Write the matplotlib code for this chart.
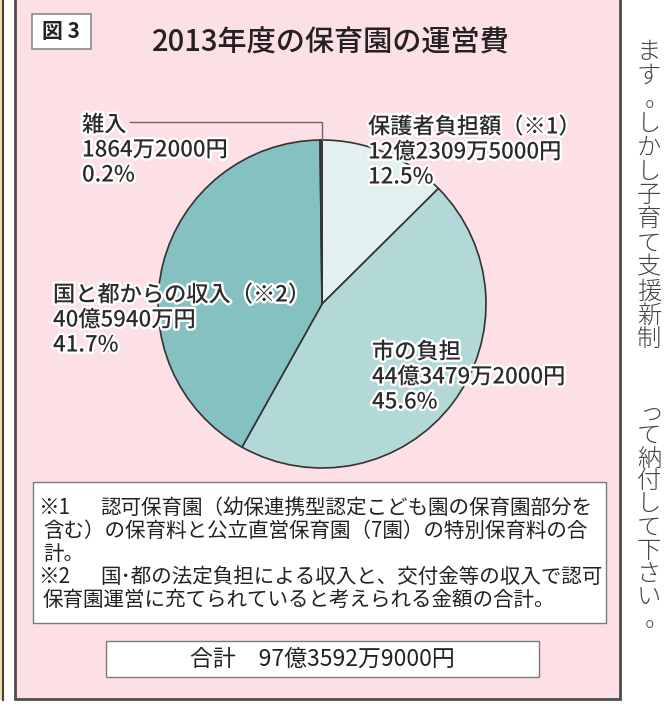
import matplotlib.pyplot as plt
from matplotlib.patches import Rectangle
import matplotlib.patheffects as pe

plt.rcParams['font.family'] = ['Noto Sans CJK JP', 'DejaVu Sans']

# data
categories = ['保護者負担額（※1）', '市の負担', '国と都からの収入（※2）', '雑入']
amounts_yen = [1223095000, 4434792000, 4059400000, 18642000]
amount_labels = ['12億2309万5000円', '44億3479万2000円', '40億5940万円', '1864万2000円']
percent_labels = ['12.5%', '45.6%', '41.7%', '0.2%']
slice_colors = ['#e2f0f0', '#b3d8d8', '#85c1c1', '#444444']

title = '2013年度の保育園の運営費'
fig_no = '図 3'
notes = [('※1', '認可保育園（幼保連携型認定こども園の保育園部分を'),
         ('', '含む）の保育料と公立直営保育園（7園）の特別保育料の合'),
         ('', '計。'),
         ('※2', '国･都の法定負担による収入と、交付金等の収入で認可'),
         ('', '保育園運営に充てられていると考えられる金額の合計。')]
total_text = '合計　97億3592万9000円'
side_col1 = 'ます。しかし子育て支援新制'
side_col2 = 'って納付して下さい。'

W, H = 670, 707
fig = plt.figure(figsize=(W / 100, H / 100), dpi=100)

# background layer (pixel coords, y down)
bg = fig.add_axes([0, 0, 1, 1])
bg.set_xlim(0, W)
bg.set_ylim(H, 0)
bg.axis('off')
bg.add_patch(Rectangle((0, 0), 2.5, 700, fc='#efe2b0', ec='none'))
bg.plot([3, 3], [0, 700], color='#4a4030', lw=1.5)
bg.add_patch(Rectangle((15, -2), 605, 701, fc='#fde0e5', ec='#4d4d4d', lw=2))
bg.add_patch(Rectangle((33, 482), 573, 141, fc='white', ec='#7a7a7a', lw=1))
bg.add_patch(Rectangle((106, 641), 433, 36, fc='white', ec='#7a7a7a', lw=1))
bg.add_patch(Rectangle((32, 14), 59, 35, fc='white', ec='#8a8a8a', lw=1.2))

# pie
cx, cy, r = 322, 304, 164
pad = 1.03
ax = fig.add_axes([(cx - r * pad) / W, 1 - (cy + r * pad) / H, 2 * r * pad / W, 2 * r * pad / H])
ax.pie(amounts_yen, colors=slice_colors, startangle=90, counterclock=False,
       wedgeprops=dict(edgecolor='#333333', linewidth=1.2))
ax.set_xlim(-pad, pad)
ax.set_ylim(-pad, pad)
ax.set_aspect('equal')
ax.axis('off')

# overlay for text
ov = fig.add_axes([0, 0, 1, 1])
ov.set_xlim(0, W)
ov.set_ylim(H, 0)
ov.axis('off')
ov.patch.set_alpha(0)

ov.text(331, 43, title, fontsize=21, ha='center', va='center', color='#222222',
        fontweight='medium')
ov.text(61, 32, fig_no, fontsize=15, ha='center', va='center', color='#222222', fontweight='bold')

# slice labels
label_pos = [(368, 127), (372, 352), (53, 295), (82, 125)]
halo = [pe.withStroke(linewidth=3.5, foreground='white')]
for name, amt, pct, (x, y) in zip(categories, amount_labels, percent_labels, label_pos):
    for i, line in enumerate([name, amt, pct]):
        ov.text(x, y + i * 25, line, fontsize=16, ha='left', va='center',
                color='#2a2a2a', fontweight='medium', path_effects=halo)

# leader line for the tiny slice
ov.plot([130, 322, 322], [122, 122, 140], color='#666666', lw=1)

# notes
for i, (mark, line) in enumerate(notes):
    y = 508 + i * 23
    if mark:
        ov.text(38, y, mark, fontsize=14.8, ha='left', va='center', color='#222222')
        ov.text(100, y, line, fontsize=14.8, ha='left', va='center', color='#222222')
    else:
        ov.text(43, y, line, fontsize=14.8, ha='left', va='center', color='#222222')

ov.text(322, 659, total_text, fontsize=16.5, ha='center', va='center', color='#222222')

# vertical body text on the right
def vertical(chars, x, y0, step):
    for i, ch in enumerate(chars):
        dx, dy = 0, 0
        if ch == '。':
            dx, dy = 8, -6
        elif ch == 'っ':
            dx = 3
        ov.text(x + dx, y0 + i * step, ch, fontsize=17.5, ha='center', va='center',
                color='#444444', fontweight='light')

vertical(side_col1, 649, 52, 24)
vertical(side_col2, 649, 413, 23)

fig.savefig('out.png', dpi=100)
